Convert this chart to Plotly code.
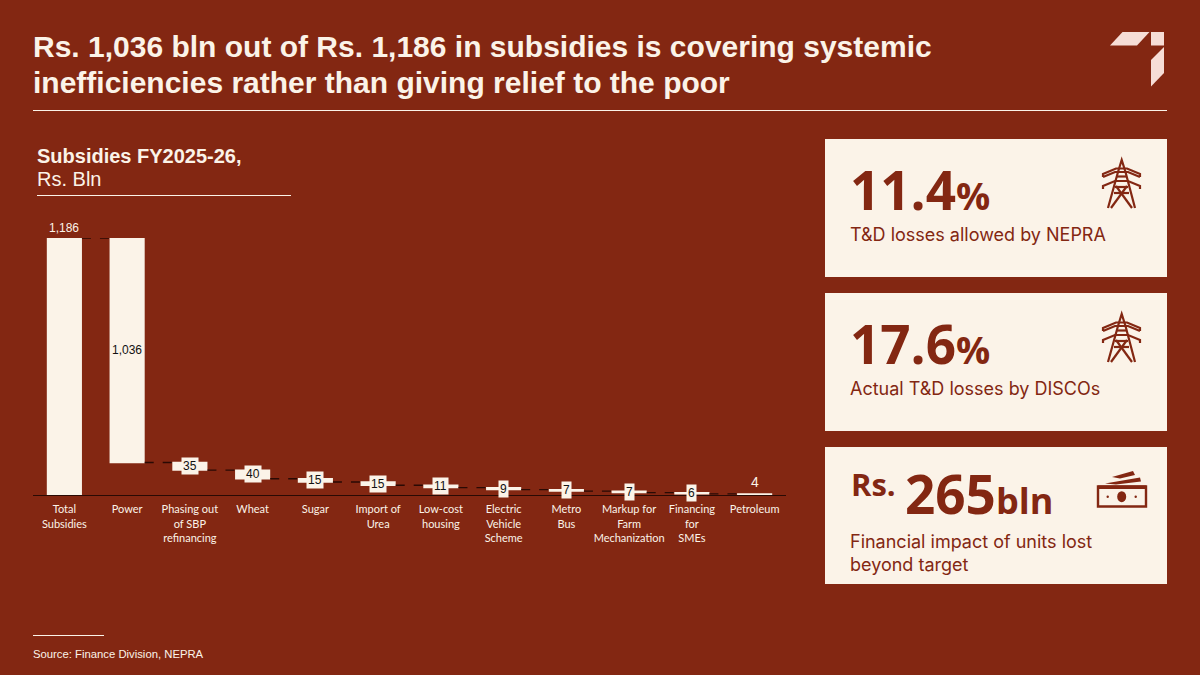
import plotly.graph_objects as go

# chart data
categories = ['Total Subsidies', 'Power', 'Phasing out of SBP refinancing', 'Wheat', 'Sugar', 'Import of Urea',
              'Low-cost housing', 'Electric Vehicle Scheme', 'Metro Bus', 'Markup for Farm Mechanization',
              'Financing for SMEs', 'Petroleum']
tick_labels = ['Total<br>Subsidies', 'Power', 'Phasing out<br>of SBP<br>refinancing', 'Wheat', 'Sugar', 'Import of<br>Urea',
               'Low-cost<br>housing', 'Electric<br>Vehicle<br>Scheme', 'Metro<br>Bus', 'Markup for<br>Farm<br>Mechanization',
               'Financing<br>for<br>SMEs', 'Petroleum']
values = [1186, -1036, -35, -40, -15, -15, -11, -9, -7, -7, -6, -4]
measures = ['absolute'] + ['relative'] * 11
value_labels = ['1,186', '1,036', '35', '40', '15', '15', '11', '9', '7', '7', '6', '4']

# side cards
card_numbers = ['11.4', '17.6', '265']
card_captions = ['T&D losses allowed by NEPRA', 'Actual T&D losses by DISCOs', 'Financial impact of units lost<br>beyond target']

BG = '#832712'
CREAM = '#FBF3E8'
DARK = '#2A0A04'
W, H = 1200, 675


def px(x):
    return x / W


def py(y):
    return 1 - y / H


def poly(points):
    return 'M ' + ' L '.join(f'{px(x):.5f},{py(y):.5f}' for x, y in points) + ' Z'


def line_path(points):
    return 'M ' + ' L '.join(f'{px(x):.5f},{py(y):.5f}' for x, y in points)


def text(x, y, s, size, color=CREAM, family='Liberation Sans', anchor='left', valign='middle'):
    return dict(x=px(x), y=py(y), xref='paper', yref='paper', text=s, showarrow=False, align=anchor,
                xanchor=anchor, yanchor=valign, font=dict(family=family, size=size, color=color),
                borderpad=0, borderwidth=0)


fig = go.Figure(go.Waterfall(
    x=categories,
    y=values,
    measure=measures,
    width=0.56,
    increasing=dict(marker=dict(color=CREAM)),
    decreasing=dict(marker=dict(color=CREAM)),
    totals=dict(marker=dict(color=CREAM)),
    connector=dict(line=dict(color=DARK, width=1.3, dash='dash')),
    hoverinfo='x+y',
))

shapes = []
annotations = []

# rules
for x0, x1, y in [(33, 1167, 110.5), (37, 291, 195.5), (33, 104, 635.5)]:
    shapes.append(dict(type='line', xref='paper', yref='paper', x0=px(x0), x1=px(x1), y0=py(y), y1=py(y),
                       line=dict(color=CREAM, width=1)))

# logo
for pts in [[(1110, 45.5), (1122.5, 32), (1149.5, 32), (1137, 45.5)],
            [(1151, 32), (1164, 32), (1164, 45.5), (1151, 45.5)],
            [(1164, 47), (1164, 73), (1151, 86.5), (1151, 60)]]:
    shapes.append(dict(type='path', xref='paper', yref='paper', path=poly(pts), fillcolor='#F6DDD6', line=dict(width=0)))

# cards
for y0, y1 in [(139, 277), (293, 431), (447, 584)]:
    shapes.append(dict(type='rect', xref='paper', yref='paper', x0=px(825), x1=px(1167), y0=py(y0), y1=py(y1),
                       fillcolor=CREAM, line=dict(width=0)))

# pylon icons
for dy in [0, 154]:
    for pts in [[(1108, 208), (1118, 172), (1121.7, 160), (1125.5, 172), (1135, 208)],
                [(1103, 177), (1115, 172), (1128, 172), (1140, 177)],
                [(1103, 189), (1103, 186), (1115, 181), (1128, 181), (1140, 186), (1140, 189)],
                [(1103, 177), (1103, 174), (1116, 168.5), (1127, 168.5), (1140, 174), (1140, 177)],
                [(1116, 186), (1132, 208)], [(1127, 186), (1111, 208)],
                [(1114, 193), (1129, 193)], [(1116, 176.5), (1127, 176.5)], [(1115, 187), (1128, 187)]]:
        shapes.append(dict(type='path', xref='paper', yref='paper', path=line_path([(x, y + dy) for x, y in pts]),
                           line=dict(color=BG, width=2.2)))

# money icon
shapes.append(dict(type='rect', xref='paper', yref='paper', x0=px(1098), x1=px(1146), y0=py(486.5), y1=py(506.5),
                   line=dict(color=BG, width=2.4)))
shapes.append(dict(type='rect', xref='paper', yref='paper', x0=px(1098), x1=px(1146), y0=py(485.5), y1=py(489),
                   fillcolor=BG, line=dict(width=0)))
for pts in [[(1105, 483.5), (1140, 477.5), (1141, 481.5), (1116, 484.5)],
            [(1112, 477), (1133, 471), (1135, 475), (1120, 478.5)]]:
    shapes.append(dict(type='path', xref='paper', yref='paper', path=poly(pts), fillcolor=BG, line=dict(width=0)))
for cx, rx, ry in [(1121.7, 4.5, 5.5), (1107.7, 1.2, 1.2), (1135.7, 1.2, 1.2)]:
    shapes.append(dict(type='circle', xref='paper', yref='paper', x0=px(cx - rx), x1=px(cx + rx), y0=py(496.7 - ry),
                       y1=py(496.7 + ry), fillcolor=BG, line=dict(width=0)))

# value labels follow the running total
running = 0
for i, (cat, v, lab) in enumerate(zip(categories, values, value_labels)):
    top = running if i > 0 else v
    bottom = running + v if i > 0 else 0
    running = bottom if i > 0 else v
    if i == 0:
        annotations.append(dict(x=cat, y=top, text=lab, showarrow=False, yanchor='bottom', yshift=1,
                                font=dict(family='Liberation Sans', size=12, color=CREAM)))
    elif i == len(values) - 1:
        annotations.append(dict(x=cat, y=top, text=lab, showarrow=False, yanchor='bottom', yshift=2,
                                font=dict(family='Liberation Sans', size=14, color=CREAM)))
    else:
        annotations.append(dict(x=cat, y=(top + bottom) / 2, text=lab, showarrow=False, bgcolor=CREAM, borderpad=1,
                                font=dict(family='Liberation Sans', size=12, color='#111111')))

# headings
annotations.append(text(33, 47, '<b>Rs. 1,036 bln out of Rs. 1,186 in subsidies is covering systemic</b>', 30))
annotations.append(text(33, 83, '<b>inefficiencies rather than giving relief to the poor</b>', 30))
annotations.append(text(37, 156, '<b>Subsidies FY2025-26,</b>', 20))
annotations.append(text(37, 179, 'Rs. Bln', 20))
annotations.append(text(33, 654, 'Source: Finance Division, NEPRA', 11.3))

# card text
big = 'Open Sans'
pct = '<span style="font-size:38px;font-weight:bold">%</span>'
annotations.append(text(850, 189, f'<b>{card_numbers[0]}</b>{pct}', 53, BG, big))
annotations.append(text(850, 234, card_captions[0], 18, BG, 'Inter'))
annotations.append(text(850, 343, f'<b>{card_numbers[1]}</b>{pct}', 53, BG, big))
annotations.append(text(850, 388, card_captions[1], 18, BG, 'Inter'))
annotations.append(text(851, 484, '<b>Rs.</b>', 31, BG, big))
annotations.append(text(905, 493, f'<b>{card_numbers[2]}</b><span style="font-size:36px;font-weight:bold">bln</span>', 53, BG, big))
annotations.append(text(850, 553, card_captions[2], 18, BG, 'Inter'))

fig.update_layout(
    width=W, height=H,
    margin=dict(l=0, r=0, t=0, b=0),
    paper_bgcolor=BG, plot_bgcolor=BG,
    showlegend=False,
    shapes=shapes,
    annotations=annotations,
    xaxis=dict(domain=[px(33), px(786)], range=[-0.5, 11.5], type='category', tickmode='array', tickvals=categories,
               ticktext=tick_labels, tickangle=0, showline=True, linecolor=DARK, linewidth=1, showgrid=False,
               ticks='', ticklabelstandoff=4, tickfont=dict(family='Lato', size=11, color=CREAM)),
    yaxis=dict(domain=[py(495), py(238)], range=[0, 1186], visible=False),
)

fig.write_html('out.html', config=dict(displayModeBar=False), post_script="document.body.style.margin='0';")
